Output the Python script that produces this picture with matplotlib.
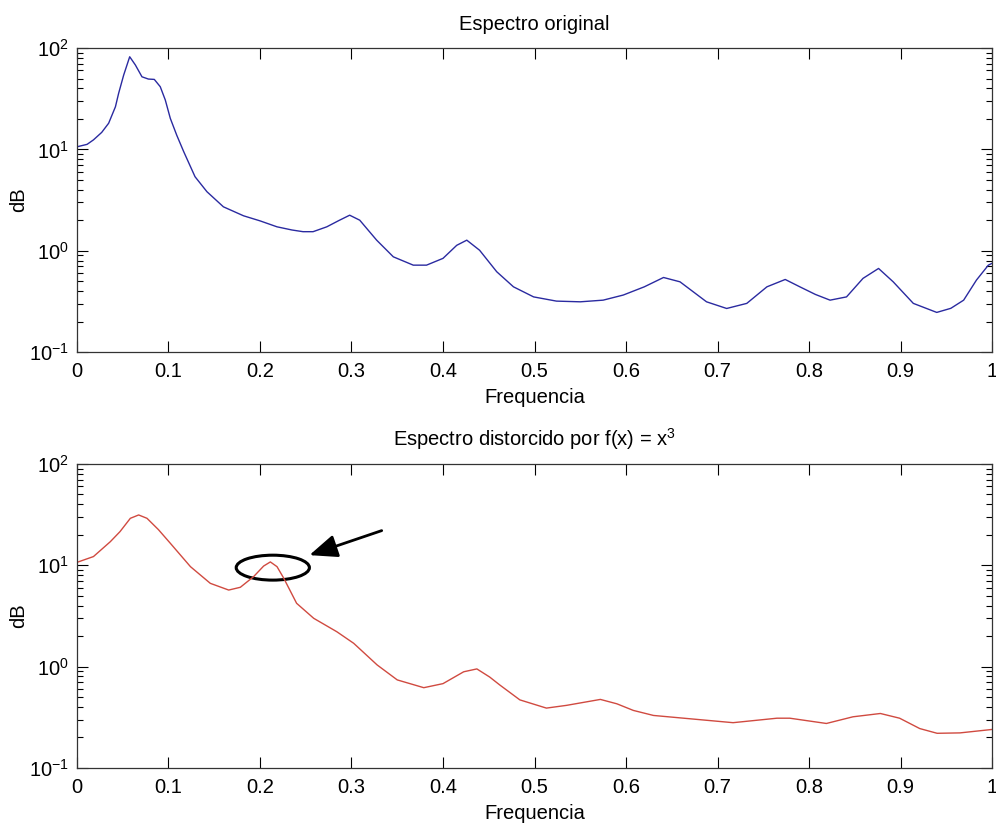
import matplotlib
matplotlib.use("Agg")
import matplotlib.pyplot as plt
from matplotlib.patches import Ellipse
from matplotlib.ticker import LogLocator, NullFormatter

plt.rcParams['font.family'] = ['Liberation Sans', 'DejaVu Sans']
plt.rcParams['mathtext.fontset'] = 'custom'
plt.rcParams['mathtext.rm'] = 'Liberation Sans'
plt.rcParams['mathtext.it'] = 'Liberation Sans:italic'
plt.rcParams['mathtext.default'] = 'regular'

# Original spectrum
freq_orig = [0.000, 0.011, 0.018, 0.027, 0.0346, 0.042, 0.0455, 0.051, 0.0576, 0.0638,
             0.071, 0.078, 0.0845, 0.091, 0.0965, 0.102, 0.109, 0.1166, 0.129, 0.142,
             0.160, 0.182, 0.200, 0.2186, 0.235, 0.247, 0.258, 0.273, 0.286, 0.298,
             0.309, 0.3275, 0.3457, 0.3675, 0.382, 0.400, 0.415, 0.426, 0.440, 0.4587,
             0.477, 0.499, 0.524, 0.55, 0.575, 0.597, 0.620, 0.641, 0.659, 0.688,
             0.710, 0.732, 0.754, 0.774, 0.790, 0.807, 0.823, 0.841, 0.859, 0.876,
             0.892, 0.914, 0.9396, 0.955, 0.969, 0.983, 0.996, 1.0]
spec_orig = [10.6, 11.2, 12.4, 14.7, 18.1, 26.3, 35.7, 54, 82, 68,
             52, 49.4, 49, 41.5, 30.7, 20.2, 13.8, 9.5, 5.37, 3.82,
             2.71, 2.21, 1.97, 1.72, 1.6, 1.54, 1.54, 1.72, 1.98, 2.24,
             2.0, 1.27, 0.87, 0.72, 0.72, 0.84, 1.13, 1.27, 1.01, 0.62,
             0.44, 0.35, 0.318, 0.313, 0.325, 0.365, 0.44, 0.544, 0.493, 0.313,
             0.269, 0.302, 0.44, 0.52, 0.44, 0.37, 0.325, 0.35, 0.533, 0.668,
             0.493, 0.302, 0.246, 0.27, 0.325, 0.513, 0.72, 0.75]

# Distorted spectrum
freq_dist = [0.0, 0.018, 0.0364, 0.047, 0.0583, 0.0674, 0.0765, 0.089, 0.102, 0.124,
             0.1457, 0.1658, 0.1785, 0.193, 0.204, 0.2113, 0.2186, 0.226, 0.240, 0.2587,
             0.284, 0.3024, 0.328, 0.35, 0.379, 0.40, 0.4226, 0.437, 0.451, 0.462,
             0.484, 0.513, 0.535, 0.572, 0.59, 0.608, 0.63, 0.663, 0.717, 0.765,
             0.779, 0.819, 0.848, 0.878, 0.899, 0.921, 0.94, 0.965, 1.0]
spec_dist = [10.7, 12.2, 17.1, 21.5, 29.1, 31.4, 29.1, 22.5, 16.5, 9.7,
             6.64, 5.7, 6.07, 7.73, 9.84, 10.8, 9.7, 7.45, 4.22, 3.0,
             2.21, 1.70, 1.04, 0.74, 0.62, 0.68, 0.89, 0.95, 0.79, 0.66,
             0.47, 0.39, 0.415, 0.475, 0.43, 0.37, 0.33, 0.31, 0.28, 0.31,
             0.31, 0.275, 0.32, 0.345, 0.31, 0.245, 0.22, 0.222, 0.24]

titles = ["Espectro original", "Espectro distorcido por f(x) = x$^{3}$"]
xlabel = "Frequencia"
ylabel = "dB"
xticks = [0, 0.1, 0.2, 0.3, 0.4, 0.5, 0.6, 0.7, 0.8, 0.9, 1]
xticklabels = ['0', '0.1', '0.2', '0.3', '0.4', '0.5', '0.6', '0.7', '0.8', '0.9', '1']

fig = plt.figure(figsize=(9.96, 8.25), dpi=100)
ax1 = fig.add_axes([0.0773, 0.5733, 0.9187, 0.3685])
ax2 = fig.add_axes([0.0773, 0.0691, 0.9187, 0.3685])

ax1.plot(freq_orig, spec_orig, color='#2a2aa0', lw=1.0)
ax2.plot(freq_dist, spec_dist, color='#d04a40', lw=1.0)

for ax, t in zip([ax1, ax2], titles):
    ax.set_yscale('log')
    ax.set_xlim(0, 1)
    ax.set_ylim(0.1, 100)
    ax.set_xticks(xticks)
    ax.set_xticklabels(xticklabels)
    ax.yaxis.set_major_locator(LogLocator(base=10, numticks=10))
    ax.yaxis.set_minor_locator(LogLocator(base=10, subs=range(2, 10), numticks=10))
    ax.yaxis.set_minor_formatter(NullFormatter())
    ax.tick_params(which='both', direction='in', top=True, right=True, labelsize=14.5)
    ax.tick_params(axis='x', pad=7)
    ax.tick_params(axis='y', pad=6)
    ax.tick_params(which='major', length=8, width=0.8)
    ax.tick_params(which='minor', length=4, width=0.8)
    ax.set_title(t, fontsize=14.5, pad=13)
    ax.set_xlabel(xlabel, fontsize=14.5, labelpad=5)
    ax.set_ylabel(ylabel, fontsize=14.5, labelpad=0)
    for s in ax.spines.values():
        s.set_linewidth(0.9)
        s.set_color('#333333')

# annotation on distorted spectrum
ell = Ellipse((0.214, 0.659), 0.080, 0.082, transform=ax2.transAxes,
              fill=False, edgecolor='black', lw=2.2)
ax2.add_patch(ell)
ax2.annotate('', xy=(0.254, 12.6), xytext=(0.333, 22),
             arrowprops=dict(arrowstyle='-|>,head_length=1.7,head_width=0.7',
                             color='black', lw=2, shrinkA=0, shrinkB=0))

fig.savefig('out.png', dpi=100)
